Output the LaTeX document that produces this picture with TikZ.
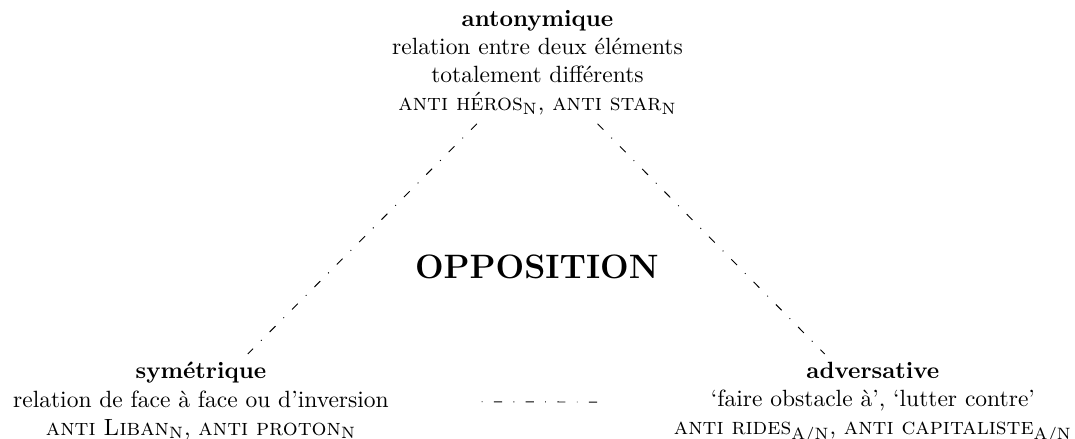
\documentclass[tikz,border=0pt]{standalone}
\usepackage{fontspec}
\usepackage{amsmath}
\usetikzlibrary{calc}

\begin{document}
\begin{tikzpicture}[begriff/.style = {text width=8cm, align=center},
    linie/.style = {thin, dash pattern=on 3.5pt off 4.8pt on 0.4pt off 4.8pt}]
    % Rahmen der Abbildung
    \useasboundingbox (0,0) rectangle (16.08,6.566);

    % Oberer Begriff
    \node[begriff, anchor=north] (antonymique) at (8.04,6.536) {\textbf{antonymique}\\
        relation entre deux éléments\\
        totalement différents\\
        \textsc{anti héros}$_{\mathrm{N}}$, \textsc{anti star}$_{\mathrm{N}}$};

    % Titel in der Mitte
    \node[anchor=base, font=\Large\bfseries] (opposition) at (8.03,2.404) {OPPOSITION};

    % Untere Begriffe links und rechts
    \node[begriff, anchor=north] (symetrique) at (3.006,1.271) {\textbf{symétrique}\\
        relation de face à face ou d'inversion\\
        \textsc{anti Liban}$_{\mathrm{N}}$, \textsc{anti proton}$_{\mathrm{N}}$};
    \node[begriff, anchor=north] (adversative) at (13.057,1.271) {\textbf{adversative}\\
        `faire obstacle à', `lutter contre'\\
        \textsc{anti rides}$_{\mathrm{A/N}}$, \textsc{anti capitaliste}$_{\mathrm{A/N}}$};

    % Verbindungen zwischen den Begriffen
    \draw[linie] (antonymique) -- (symetrique);
    \draw[linie] (antonymique) -- (adversative);
    \draw[linie] (adversative) -- (symetrique);
\end{tikzpicture}
\end{document}
